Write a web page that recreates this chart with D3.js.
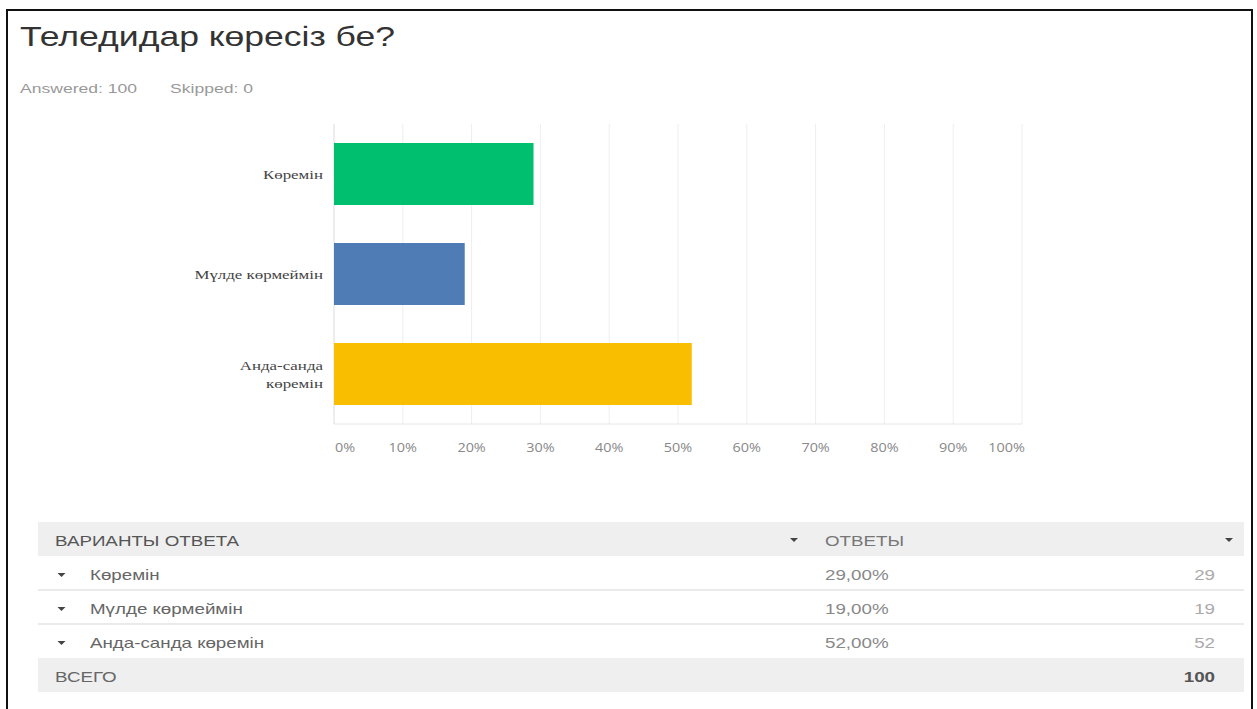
<!DOCTYPE html>
<html>
<head>
<meta charset="utf-8">
<script src="https://cdn.jsdelivr.net/npm/d3@7"></script>
<style>
  html, body { margin: 0; padding: 0; background: #fff; }
  svg { display: block; }
</style>
</head>
<body>
<div id="chart"></div>
<script>
// Survey question data
const title = "Теледидар көресіз бе?";
const answered = 100;
const skipped = 0;
const categories = ["Көремін", "Мүлде көрмеймін", "Анда-санда көремін"];
const categoryLines = [["Көремін"], ["Мүлде көрмеймін"], ["Анда-санда", "көремін"]];
const percents = [29, 19, 52];
const counts = [29, 19, 52];
const barColors = ["#00bf6f", "#507cb6", "#f9be00"];
const tickValues = [0, 10, 20, 30, 40, 50, 60, 70, 80, 90, 100];
const tableHeaders = ["ВАРИАНТЫ ОТВЕТА", "ОТВЕТЫ"];
const totalLabel = "ВСЕГО";
const total = 100;

const W = 1257, H = 709;
const sans = "'Liberation Sans', Arial, sans-serif";

// the reference screenshot is stretched sideways, so widen text to match
const widen = (sel, k) => sel.each(function () {
    const w = this.getComputedTextLength();
    d3.select(this)
        .attr("textLength", w * k)
        .attr("lengthAdjust", "spacingAndGlyphs");
});

const svg = d3.select("#chart").append("svg")
    .attr("width", W)
    .attr("height", H);

// outer frame
svg.append("rect")
    .attr("x", 7).attr("y", 10)
    .attr("width", 1245).attr("height", 710)
    .attr("fill", "none")
    .attr("stroke", "#111")
    .attr("stroke-width", 2);

// Title and meta
svg.append("text")
    .attr("x", 20).attr("y", 46)
    .attr("font-family", sans)
    .attr("font-size", 28)
    .attr("fill", "#333")
    .text(title)
    .call(widen, 1.27);

svg.append("text")
    .attr("x", 20).attr("y", 93)
    .attr("font-family", sans)
    .attr("font-size", 13.5)
    .attr("fill", "#999")
    .text("Answered: " + answered)
    .call(widen, 1.3);

svg.append("text")
    .attr("x", 170).attr("y", 93)
    .attr("font-family", sans)
    .attr("font-size", 13.5)
    .attr("fill", "#999")
    .text("Skipped: " + skipped)
    .call(widen, 1.3);

// Bar chart
const plot = {left: 334, right: 1022, top: 124, bottom: 424};

const x = d3.scaleLinear()
    .domain([0, 100])
    .range([plot.left, plot.right]);

const y = d3.scaleBand()
    .domain(categories)
    .range([plot.top, plot.bottom])
    .paddingInner(0.38)
    .paddingOuter(0.19);

const g = svg.append("g");

// gridlines
g.selectAll("line.grid")
    .data(tickValues)
    .enter()
    .append("line")
    .attr("class", "grid")
    .attr("x1", d => x(d)).attr("x2", d => x(d))
    .attr("y1", plot.top).attr("y2", plot.bottom)
    .attr("stroke", d => d === 0 ? "#dcdcdc" : "#eeeeee")
    .attr("stroke-width", 1);

// bottom baseline
g.append("line")
    .attr("x1", plot.left).attr("x2", plot.right)
    .attr("y1", plot.bottom).attr("y2", plot.bottom)
    .attr("stroke", "#e6e6e6");

// bars
g.selectAll("rect.bar")
    .data(categories)
    .enter()
    .append("rect")
    .attr("class", "bar")
    .attr("x", x(0))
    .attr("y", d => y(d))
    .attr("width", (d, i) => x(percents[i]) - x(0))
    .attr("height", y.bandwidth())
    .attr("fill", (d, i) => barColors[i]);

// category labels
const catText = g.selectAll("text.cat")
    .data(categories)
    .enter()
    .append("text")
    .attr("class", "cat")
    .attr("text-anchor", "end")
    .attr("font-family", "'Liberation Serif', 'Times New Roman', serif")
    .attr("font-size", 13.5)
    .attr("fill", "#444");

catText.each(function (d, i) {
    const lines = categoryLines[i];
    const cy = y(d) + y.bandwidth() / 2;
    const lh = 18;
    const start = cy - (lines.length - 1) * lh / 2 + 5;
    lines.forEach((t, j) => {
        d3.select(this).append("tspan")
            .attr("x", 323)
            .attr("y", start + j * lh)
            .text(t)
            .call(widen, 1.25);
    });
});

// tick labels, centred on gridlines; the end ones are pulled inside
g.selectAll("text.tick")
    .data(tickValues)
    .enter()
    .append("text")
    .attr("class", "tick")
    .attr("x", d => d === 0 ? x(d) + 1 : d === 100 ? x(d) + 3 : x(d))
    .attr("y", 452)
    .attr("text-anchor", d => d === 0 ? "start" : d === 100 ? "end" : "middle")
    .attr("font-family", "'Open Sans', sans-serif")
    .attr("font-size", 12)
    .attr("fill", "#888")
    .text(d => d + "%")
    .call(widen, 1.2);

// Table
const table = {left: 38, right: 1244, top: 522, rowH: 34};
const rowCount = categories.length;
const col2 = 825;
const fs = 15, k = 1.25;

const tg = svg.append("g").attr("font-family", sans);

// header background
tg.append("rect")
    .attr("x", table.left).attr("y", table.top)
    .attr("width", table.right - table.left).attr("height", table.rowH)
    .attr("fill", "#efefef");

tg.append("text")
    .attr("x", 55).attr("y", table.top + 24)
    .attr("font-size", fs)
    .attr("fill", "#555")
    .text(tableHeaders[0])
    .call(widen, k);

tg.append("text")
    .attr("x", col2).attr("y", table.top + 24)
    .attr("font-size", fs)
    .attr("fill", "#777")
    .text(tableHeaders[1])
    .call(widen, k);

const arrow = (sel, cx, cy) => {
    sel.append("path")
        .attr("d", `M${cx - 4},${cy - 2} L${cx + 4},${cy - 2} L${cx},${cy + 2} Z`)
        .attr("fill", "#444");
};
arrow(tg, 794, table.top + 18);
arrow(tg, 1229, table.top + 18);

// body rows
const rows = tg.selectAll("g.row")
    .data(categories)
    .enter()
    .append("g")
    .attr("class", "row")
    .attr("transform", (d, i) => `translate(0,${table.top + table.rowH * (i + 1)})`);

rows.filter((d, i) => i < rowCount - 1)
    .append("line")
    .attr("x1", table.left).attr("x2", table.right)
    .attr("y1", table.rowH).attr("y2", table.rowH)
    .attr("stroke", "#e3e3e3")
    .attr("stroke-width", 1.5);

rows.each(function (d, i) {
    const r = d3.select(this);
    arrow(r, 61.5, 19);
    r.append("text")
        .attr("x", 90).attr("y", 24)
        .attr("font-size", fs)
        .attr("fill", "#666")
        .text(d)
        .call(widen, k);
    r.append("text")
        .attr("x", col2).attr("y", 24)
        .attr("font-size", fs)
        .attr("fill", "#888")
        .text(percents[i].toFixed(2).replace(".", ",") + "%")
        .call(widen, k);
    r.append("text")
        .attr("x", 1215).attr("y", 24)
        .attr("text-anchor", "end")
        .attr("font-size", fs)
        .attr("fill", "#aaa")
        .text(counts[i])
        .call(widen, k);
});

// total row
const totalY = table.top + table.rowH * (rowCount + 1);
tg.append("rect")
    .attr("x", table.left).attr("y", totalY)
    .attr("width", table.right - table.left).attr("height", table.rowH)
    .attr("fill", "#efefef");

tg.append("text")
    .attr("x", 55).attr("y", totalY + 24)
    .attr("font-size", fs)
    .attr("fill", "#666")
    .text(totalLabel)
    .call(widen, k);

tg.append("text")
    .attr("x", 1215).attr("y", totalY + 24)
    .attr("text-anchor", "end")
    .attr("font-size", fs)
    .attr("font-weight", "bold")
    .attr("fill", "#555")
    .text(total)
    .call(widen, k);
</script>
</body>
</html>
